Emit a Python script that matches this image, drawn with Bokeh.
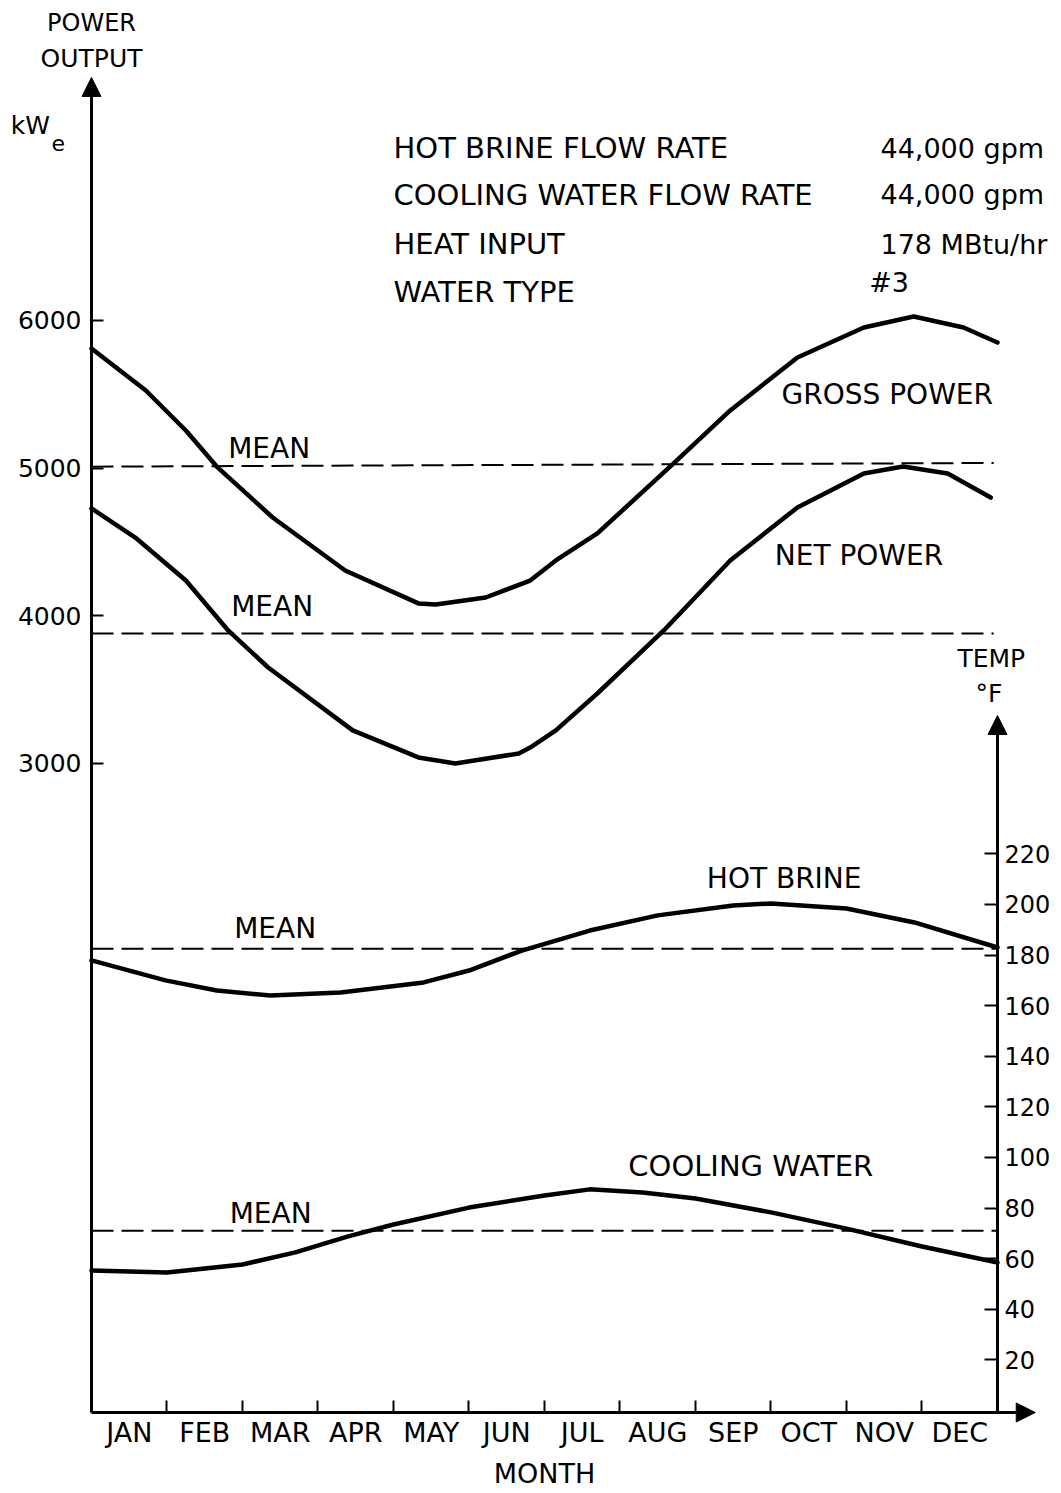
from bokeh.plotting import figure
from bokeh.models import (Range1d, LinearAxis, FixedTicker, Arrow, NormalHead, Label)
from bokeh.embed import file_html
from bokeh.resources import INLINE

# ---------------- data ----------------
months = ["JAN", "FEB", "MAR", "APR", "MAY", "JUN", "JUL", "AUG", "SEP", "OCT", "NOV", "DEC"]

gross_x = [0.0, 0.72, 1.25, 1.67, 2.40, 3.36, 4.33, 4.56, 5.22, 5.81, 6.15, 6.70, 7.71, 8.46, 9.35, 10.23, 10.89, 11.55, 12.0]
gross_kw = [5810, 5526, 5255, 5005, 4666, 4307, 4084, 4077, 4124, 4239, 4375, 4558, 5032, 5391, 5749, 5953, 6027, 5953, 5851]

net_x = [0.0, 0.58, 1.25, 1.81, 2.34, 3.46, 4.33, 4.82, 5.66, 5.81, 6.15, 6.70, 7.58, 8.46, 9.35, 10.23, 10.75, 11.34, 11.91]
net_kw = [4727, 4530, 4239, 3901, 3650, 3224, 3041, 3000, 3068, 3108, 3224, 3474, 3901, 4375, 4734, 4964, 5011, 4964, 4801]

brine_x = [0.0, 0.98, 1.66, 2.37, 3.30, 4.40, 5.0, 5.70, 6.60, 7.50, 8.50, 9.0, 10.0, 10.90, 12.0]
brine_t = [177.9, 170.0, 166.0, 164.0, 165.2, 169.2, 173.9, 181.8, 189.7, 195.7, 199.6, 200.4, 198.4, 192.9, 183.0]

cool_x = [0.0, 1.0, 2.0, 2.7, 3.4, 4.0, 5.0, 6.0, 6.6, 7.3, 8.0, 9.0, 10.0, 11.0, 12.0]
cool_t = [55.3, 54.5, 57.7, 62.5, 68.8, 73.5, 80.2, 85.0, 87.4, 86.2, 83.8, 78.3, 71.9, 64.8, 58.5]

mean_gross = 5010
mean_net = 3880
mean_brine = 182.5
mean_cool = 71.0

power_ticks = [3000, 4000, 5000, 6000]
temp_ticks = [20, 40, 60, 80, 100, 120, 140, 160, 180, 200, 220]

info_names = ["HOT BRINE FLOW RATE", "COOLING  WATER  FLOW  RATE", "HEAT INPUT", "WATER TYPE"]
info_values = ["44,000 gpm", "44,000 gpm", "178 MBtu/hr", "#3"]

FONT = "DejaVu Sans"
n = len(months)

# power axis extent and temperature axis extent
p_lo, p_hi = -1395, 7646
t_lo, t_hi = -0.79, 274.7

# ---------------- figure ----------------
p = figure(width=1061, height=1493, output_backend="svg", toolbar_location=None,
           x_range=Range1d(-1.2053, 12.8477), y_range=Range1d(-1943.6, 8167.0),
           min_border_left=0, min_border_right=0, min_border_top=0, min_border_bottom=0,
           x_axis_type=None, y_axis_type=None)
p.extra_y_ranges = {"temp": Range1d(-32.81, 557.31)}
p.outline_line_color = None
p.xgrid.visible = False
p.ygrid.visible = False
p.background_fill_color = "white"
p.border_fill_color = "white"

# left axis (power)
yl = LinearAxis(ticker=FixedTicker(ticks=power_ticks), fixed_location=0, bounds=(p_lo, p_hi - 250))
yl.axis_line_width = 3
yl.major_tick_in = 12
yl.major_tick_out = 0
yl.major_tick_line_width = 2
yl.minor_tick_line_color = None
yl.major_label_standoff = 10
yl.major_label_text_font = FONT
yl.major_label_text_font_size = "25px"
yl.major_label_text_color = "black"
p.add_layout(yl, "left")

# right axis (temperature)
yr = LinearAxis(y_range_name="temp", ticker=FixedTicker(ticks=temp_ticks), fixed_location=n,
                bounds=(t_lo, t_hi - 12))
yr.axis_line_width = 3
yr.major_tick_in = 13
yr.major_tick_out = 0
yr.major_tick_line_width = 2
yr.minor_tick_line_color = None
yr.major_label_standoff = 7
yr.major_label_text_font = FONT
yr.major_label_text_font_size = "24px"
yr.major_label_text_color = "black"
p.add_layout(yr, "right")

# bottom axis (months between ticks)
xb = LinearAxis(ticker=FixedTicker(ticks=[i + 0.5 for i in range(n)], minor_ticks=list(range(n + 1))),
                fixed_location=p_lo, bounds=(0, n))
xb.major_label_overrides = {i + 0.5: m for i, m in enumerate(months)}
xb.axis_line_width = 3
xb.major_tick_in = 0
xb.major_tick_out = 0
xb.minor_tick_in = 12
xb.minor_tick_out = 0
xb.minor_tick_line_width = 2
xb.minor_tick_line_color = "black"
xb.major_label_standoff = 5
xb.major_label_text_font = FONT
xb.major_label_text_font_size = "27px"
xb.major_label_text_color = "black"
p.add_layout(xb, "below")

# axis arrows
head = dict(size=19, fill_color="black", line_color="black")
p.add_layout(Arrow(end=NormalHead(**head), x_start=0, y_start=p_hi - 400, x_end=0, y_end=p_hi, line_width=3))
p.add_layout(Arrow(end=NormalHead(**head), x_start=n - 0.3, y_start=p_lo, x_end=n + 0.5, y_end=p_lo, line_width=3))
p.add_layout(Arrow(end=NormalHead(**head), x_start=n, y_start=t_hi - 20, x_end=n, y_end=t_hi, line_width=3,
                   y_range_name="temp"))

# mean lines
dash = dict(line_color="black", line_width=2, line_dash="22 8")
p.line([0, n - 0.05], [mean_gross, mean_gross + 25], **dash)
p.line([0, n - 0.05], [mean_net, mean_net], **dash)
p.line([0, n], [mean_brine, mean_brine], y_range_name="temp", **dash)
p.line([0, n], [mean_cool, mean_cool], y_range_name="temp", **dash)

# curves
curve = dict(line_color="black", line_width=4.5, line_join="round", line_cap="round")
p.line(gross_x, gross_kw, **curve)
p.line(net_x, net_kw, **curve)
p.line(brine_x, brine_t, y_range_name="temp", **curve)
p.line(cool_x, cool_t, y_range_name="temp", **curve)


def lab(text, x, y, size=28, align="left", rng="default"):
    p.add_layout(Label(text=text, x=x, y=y, y_range_name=rng, text_font=FONT,
                       text_font_size=f"{size}px", text_align=align, text_baseline="middle",
                       text_color="black"))


# axis titles
lab("POWER", 0, 8018, size=24, align="center")
lab("OUTPUT", 0, 7774, size=25, align="center")
lab("kW", -1.07, 7321, size=25)
lab("e", -0.53, 7200, size=22)
lab("TEMP", 11.47, 297.2, size=25, rng="temp")
lab("°F", 11.71, 283.5, size=25, rng="temp")
lab("MONTH", n / 2, -1808, size=27, align="center")

# info block
info_y = [7165, 6850, 6518, 6195]
for name, val, yy in zip(info_names, info_values, info_y):
    lab(name, 4.0, yy, size=29)
    if val.startswith("#"):
        lab(val, 10.3, yy + 60, size=27)
    else:
        lab(val, 10.45, yy, size=27)

# curve labels
lab("GROSS POWER", 9.14, 5499)
lab("NET POWER", 9.05, 4409)
lab("MEAN", 1.81, 5133)
lab("MEAN", 1.85, 4063)
lab("HOT BRINE", 8.15, 210.3, rng="temp")
lab("MEAN", 1.89, 190.5, rng="temp")
lab("COOLING  WATER", 7.11, 96.8, size=29, rng="temp")
lab("MEAN", 1.83, 77.9, rng="temp")

open("out.html", "w").write(file_html(p, INLINE))
